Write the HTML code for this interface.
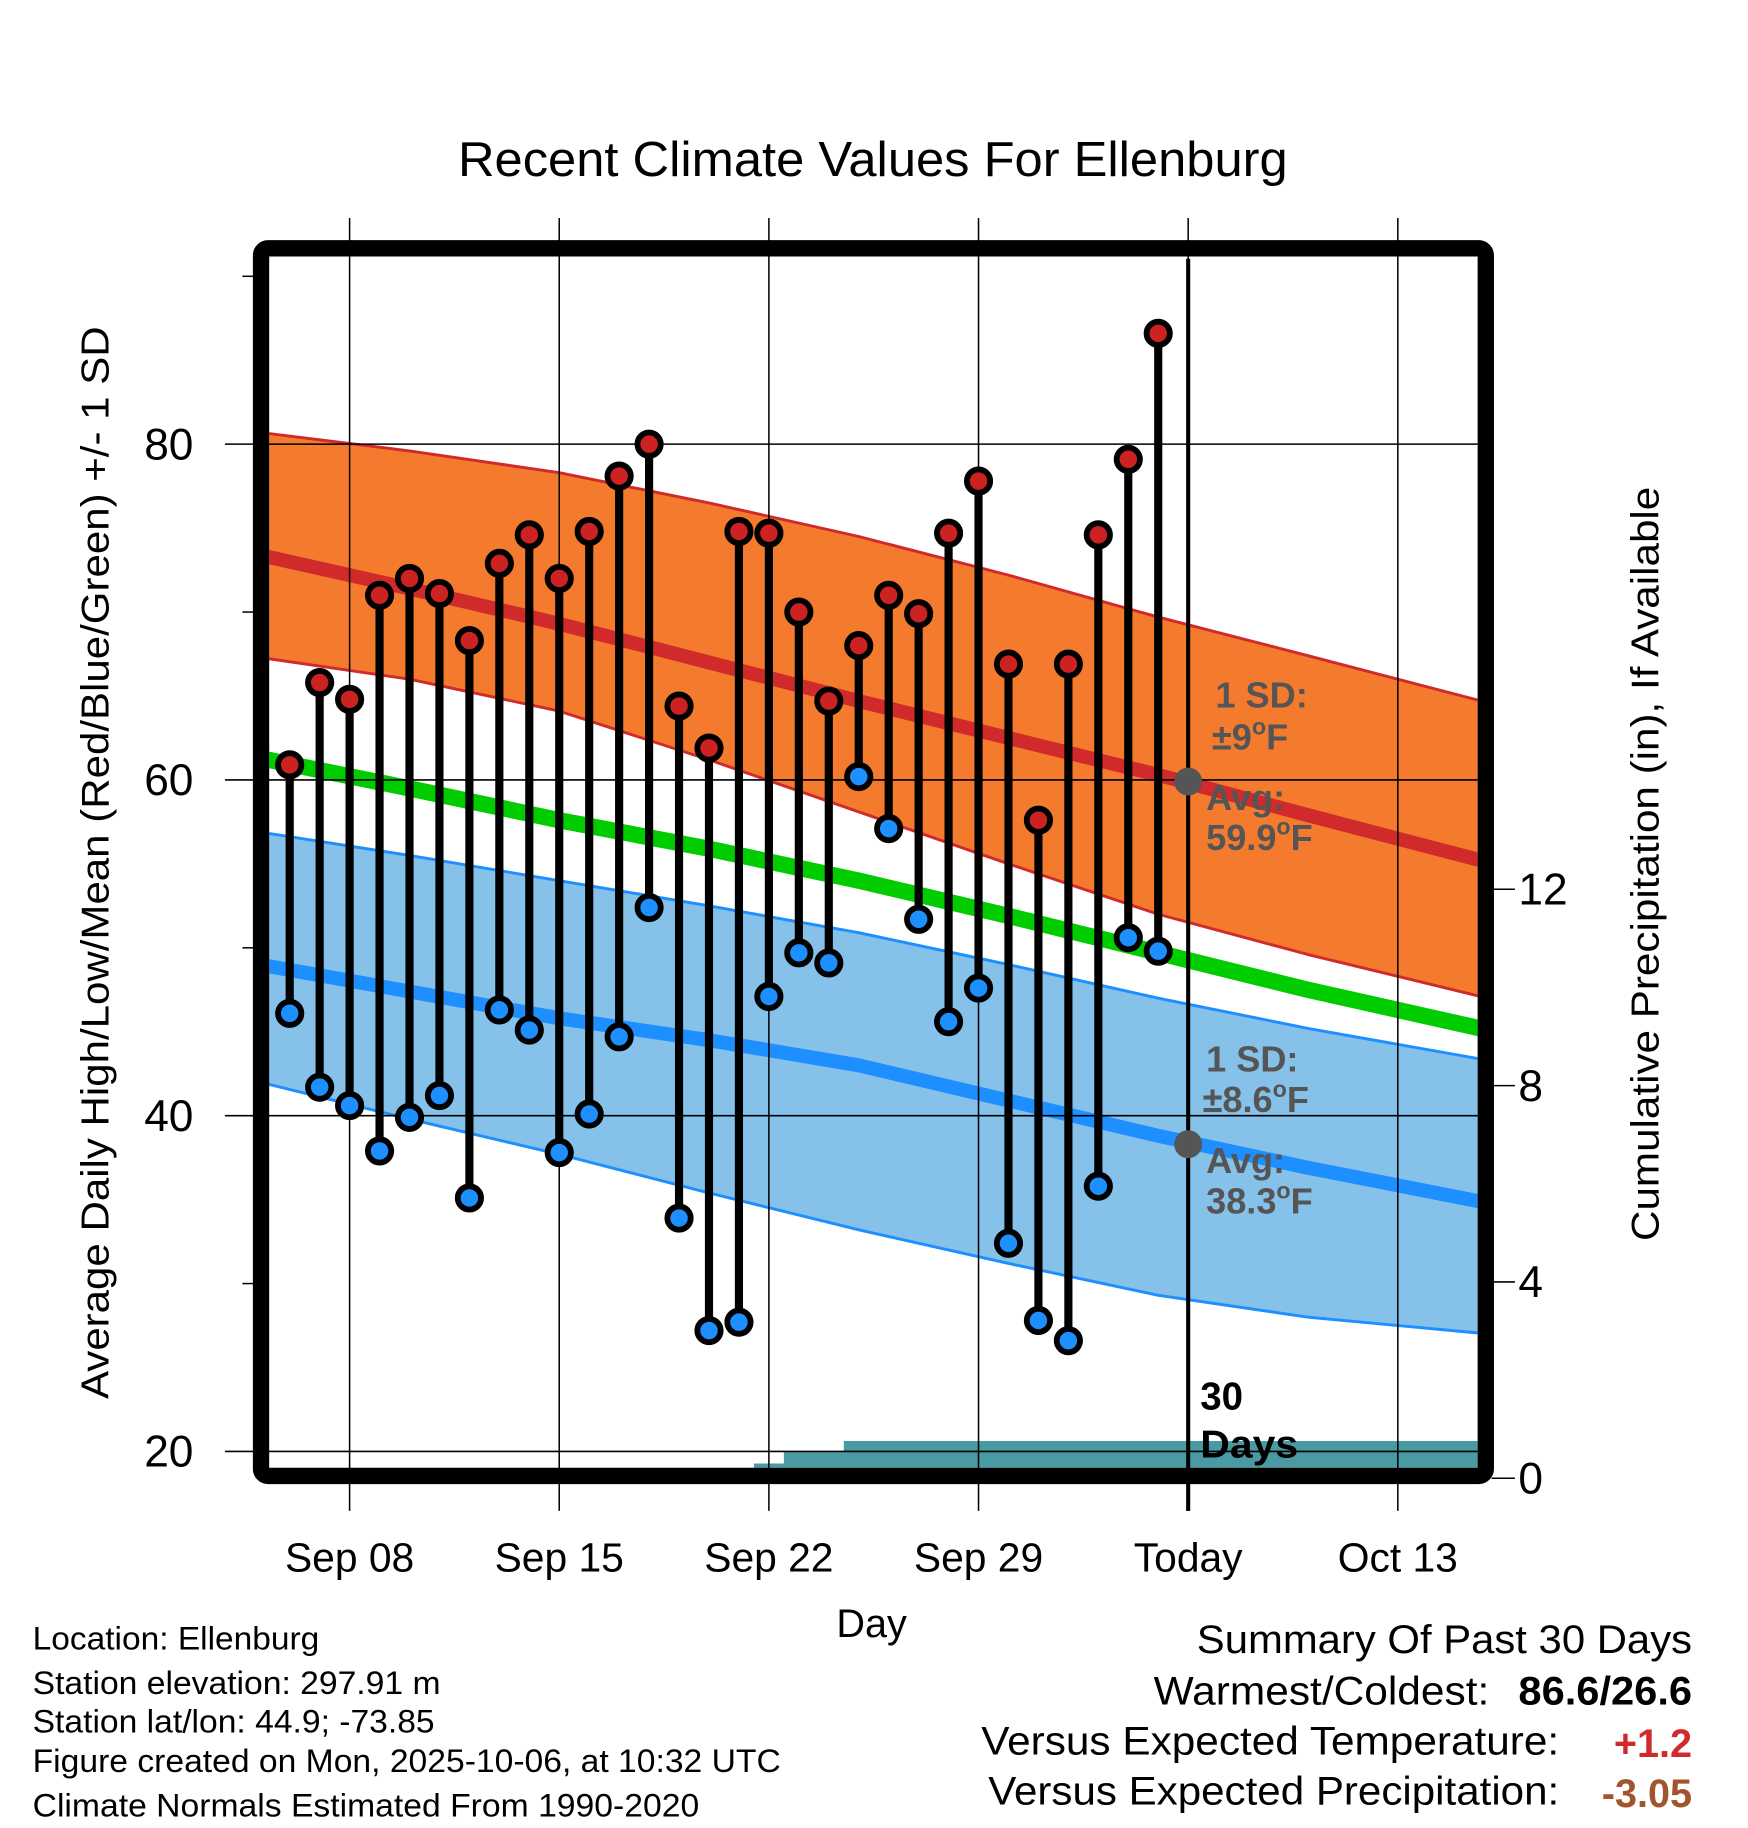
<!DOCTYPE html>
<html><head><meta charset="utf-8"><style>
html,body{margin:0;padding:0;background:#fff}
svg{display:block;font-family:"Liberation Sans",Arial,sans-serif}
</style></head><body>
<svg id="chart" width="1748" height="1828" viewBox="0 0 1500 1568" preserveAspectRatio="none" xmlns="http://www.w3.org/2000/svg">
<defs><clipPath id="plotclip"><rect x="231" y="220" width="1037" height="1039"/></clipPath></defs>
<g id="bands" clip-path="url(#plotclip)"></g>
<g id="grid"></g>
<g id="marks"></g>
<rect x="224" y="213" width="1051" height="1053" rx="6" fill="none" stroke="#000" stroke-width="14"/>
<text x="393" y="151" font-size="42" textLength="712" lengthAdjust="spacingAndGlyphs">Recent Climate Values For Ellenburg</text>
<text transform="translate(93,740) rotate(-90)" font-size="33" text-anchor="middle" textLength="920" lengthAdjust="spacingAndGlyphs">Average Daily High/Low/Mean (Red/Blue/Green) +/- 1 SD</text>
<text transform="translate(1423,741) rotate(-90)" font-size="33" text-anchor="middle" textLength="647" lengthAdjust="spacingAndGlyphs">Cumulative Precipitation (in), If Available</text>
<text x="748" y="1404" font-size="34" text-anchor="middle">Day</text>
<g font-size="31" fill="#555" font-weight="bold">
<text x="1043" y="607">1 SD:</text>
<text x="1040" y="643">±9<tspan font-size="20" dy="-13">o</tspan><tspan dy="13">F</tspan></text>
<text x="1035" y="695">Avg:</text>
<text x="1035" y="729">59.9<tspan font-size="20" dy="-13">o</tspan><tspan dy="13">F</tspan></text>
<text x="1035" y="919">1 SD:</text>
<text x="1032" y="954">±8.6<tspan font-size="20" dy="-13">o</tspan><tspan dy="13">F</tspan></text>
<text x="1035" y="1006">Avg:</text>
<text x="1035" y="1041">38.3<tspan font-size="20" dy="-13">o</tspan><tspan dy="13">F</tspan></text>
</g>
<text x="1030" y="1209" font-size="33" font-weight="bold">30</text>
<text x="1030" y="1250" font-size="33" font-weight="bold" textLength="84" lengthAdjust="spacingAndGlyphs">Days</text>
<g font-size="28" lengthAdjust="spacingAndGlyphs">
<text x="28" y="1415" textLength="246" lengthAdjust="spacingAndGlyphs">Location: Ellenburg</text>
<text x="28" y="1453" textLength="350" lengthAdjust="spacingAndGlyphs">Station elevation: 297.91 m</text>
<text x="28" y="1486" textLength="345" lengthAdjust="spacingAndGlyphs">Station lat/lon: 44.9; -73.85</text>
<text x="28" y="1520" textLength="642" lengthAdjust="spacingAndGlyphs">Figure created on Mon, 2025-10-06, at 10:32 UTC</text>
<text x="28" y="1558" textLength="572" lengthAdjust="spacingAndGlyphs">Climate Normals Estimated From 1990-2020</text>
</g>
<g font-size="34">
<text x="1027" y="1418" textLength="425" lengthAdjust="spacingAndGlyphs">Summary Of Past 30 Days</text>
<text x="990" y="1462" textLength="288" lengthAdjust="spacingAndGlyphs">Warmest/Coldest:</text>
<text x="1303" y="1462" font-weight="bold" textLength="149" lengthAdjust="spacingAndGlyphs">86.6/26.6</text>
<text x="842" y="1505" textLength="496" lengthAdjust="spacingAndGlyphs">Versus Expected Temperature:</text>
<text x="1452" y="1507" text-anchor="end" font-weight="bold" fill="#d12a2a">+1.2</text>
<text x="848" y="1548" textLength="490" lengthAdjust="spacingAndGlyphs">Versus Expected Precipitation:</text>
<text x="1452" y="1550" text-anchor="end" font-weight="bold" fill="#a0552d">-3.05</text>
</g>
</svg>
<script>
// Daily observations Sep 06 .. Oct 05 (day index relative to Sep 08)
const obsStartDay = -2;
const highs = [60.9,65.8,64.8,71.0,72.0,71.1,68.3,72.9,74.6,72.0,74.8,78.1,80.0,64.4,61.9,74.8,74.7,70.0,64.7,68.0,71.0,69.9,74.7,77.8,66.9,57.6,66.9,74.6,79.1,86.6];
const lows  = [46.1,41.7,40.6,37.9,39.9,41.2,35.1,46.3,45.1,37.8,40.1,44.7,52.4,33.9,27.2,27.7,47.1,49.7,49.1,60.2,57.1,51.7,45.6,47.6,32.4,27.8,26.6,35.8,50.6,49.8];
// Cumulative precipitation (in), same days
const precip = [0,0,0,0,0,0,0,0,0,0,0,0,0,0,0,0,0.3,0.55,0.55,0.76,0.76,0.76,0.76,0.76,0.76,0.76,0.76,0.76,0.76,0.76];
// Normals at key days
const normDays = [-3,2,7,12,17,22,27,32,38];
const hiUp   = [80.7,79.6,78.3,76.5,74.5,72.2,69.7,67.4,64.6];
const hiMean = [73.4,71.4,69.3,67.0,64.7,62.5,60.3,57.9,55.1];
const hiLow  = [67.3,66.0,64.1,61.2,58.1,55.0,52.0,49.6,47.0];
const meanT  = [61.3,59.5,57.6,55.9,54.0,51.9,49.7,47.5,45.1];
const loUp   = [56.9,55.5,54.0,52.5,50.9,49.0,47.0,45.2,43.3];
const loMean = [49.0,47.4,45.8,44.5,43.0,40.9,38.8,36.9,34.8];
const loLow  = [42.0,39.8,37.7,35.4,33.2,31.2,29.3,28.0,27.0];
const todayDay = 28;
const todayHigh = 59.9, todayLow = 38.3;
const leftTicks = [20,40,60,80];
const minorTicks = [30,50,70,90];
const rightTicks = [0,4,8,12];
const xTickDays = [0,7,14,21,28,35];
const xTickLabels = ["Sep 08","Sep 15","Sep 22","Sep 29","Today","Oct 13"];

const NS="http://www.w3.org/2000/svg";
const xs = d => 300 + d*25.7;
const ys = v => 669 - (v-60)*14.4;
const yp = p => 1268 - p*42.1;
function mk(tag, attrs, parent){const e=document.createElementNS(NS,tag);for(const k in attrs)e.setAttribute(k,attrs[k]);parent.appendChild(e);return e;}
const bands=document.getElementById('bands'), grid=document.getElementById('grid'), marks=document.getElementById('marks');
const pts = arr => arr.map((v,i)=>xs(normDays[i])+','+ys(v)).join(' ');
const band = (up,lo) => pts(up)+' '+lo.map((v,i)=>[xs(normDays[i]),ys(v)]).reverse().map(p=>p.join(',')).join(' ');

let e;
e=mk('polygon',{points:band(hiUp,hiLow),fill:'#f47a2e'},bands);


e=mk('polygon',{points:band(loUp,loLow),fill:'#85c1e9'},bands);


[[hiUp,'#d12a2a',2.5,'high-sd-upper'],[hiLow,'#d12a2a',2.5,'high-sd-lower'],[loUp,'#1e8fff',2.5,'low-sd-upper'],[loLow,'#1e8fff',2.5,'low-sd-lower'],[hiMean,'#d12a2a',12,'normal-high-line'],[meanT,'#00cc00',14,'normal-mean-line'],[loMean,'#1e8fff',12,'normal-low-line']].forEach(s=>{
  const l=mk('polyline',{points:pts(s[0]),fill:'none',stroke:s[1],'stroke-width':s[2],'stroke-linejoin':'round'},bands);
  
  
});
// precip step area
let pp=[[xs(obsStartDay-0.5),yp(0)]];
precip.forEach((p,i)=>{const d=obsStartDay+i;pp.push([xs(d-0.5),yp(p)]);pp.push([xs(d+0.5),yp(p)]);});
pp.push([1270,yp(precip[precip.length-1])]);pp.push([1270,yp(0)]);
e=mk('polygon',{points:pp.map(p=>p.join(',')).join(' '),fill:'#4a9aa3'},bands);



// grid & ticks
leftTicks.forEach(v=>{
  mk('line',{x1:193,x2:1268,y1:ys(v),y2:ys(v),stroke:'#000','stroke-width':1.3},grid);
  const t=mk('text',{x:166,y:ys(v)+13,'font-size':38,'text-anchor':'end'},grid);t.textContent=v;
  
  
});
minorTicks.forEach(v=>mk('line',{x1:208,x2:220,y1:ys(v),y2:ys(v),stroke:'#000','stroke-width':1.3},grid));
rightTicks.forEach(p=>{
  mk('line',{x1:1280,x2:1300,y1:yp(p),y2:yp(p),stroke:'#000','stroke-width':1.3},grid);
  const t=mk('text',{x:1303,y:yp(p)+13,'font-size':38},grid);t.textContent=p;
  
  
});
xTickDays.forEach((d,i)=>{
  mk('line',{x1:xs(d),x2:xs(d),y1:187,y2:1296,stroke:'#000','stroke-width':1.3},grid);
  const t=mk('text',{x:xs(d),y:1348,'font-size':35,'text-anchor':'middle'},grid);t.textContent=xTickLabels[i];
  
  
});
e=mk('line',{x1:xs(todayDay),x2:xs(todayDay),y1:222,y2:1296,stroke:'#000','stroke-width':3.5},grid);


e=mk('circle',{cx:xs(todayDay),cy:ys(todayHigh),r:12,fill:'#555'},grid);


e=mk('circle',{cx:xs(todayDay),cy:ys(todayLow),r:12,fill:'#555'},grid);



highs.forEach((h,i)=>{
  const x=xs(obsStartDay+i), lo=lows[i];
  const l=mk('line',{x1:x,x2:x,y1:ys(h),y2:ys(lo),stroke:'#000','stroke-width':7},marks);
  
  
  const c1=mk('circle',{cx:x,cy:ys(h),r:10,fill:'#cc2222',stroke:'#000','stroke-width':5},marks);
  
  
  const c2=mk('circle',{cx:x,cy:ys(lo),r:10,fill:'#1e8fff',stroke:'#000','stroke-width':5},marks);
  
  
});
</script>
</body></html>
